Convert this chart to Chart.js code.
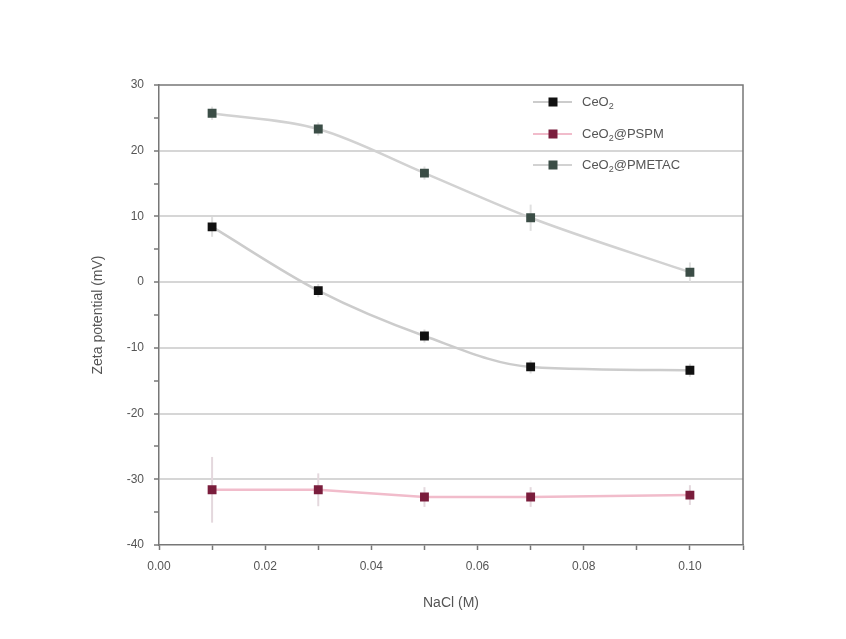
<!DOCTYPE html>
<html>
<head>
<meta charset="utf-8">
<script src="https://cdn.jsdelivr.net/npm/chart.js@4.4.1/dist/chart.umd.min.js"></script>
<style>
  html, body { margin: 0; padding: 0; background: #fff; }
  canvas { display: block; }
</style>
</head>
<body>
<canvas id="zeta" width="846" height="639"></canvas>
<script>
// NaCl concentration (M)
const nacl = [0.01, 0.03, 0.05, 0.07, 0.10];

// zeta potential (mV)
const ceo2 = [8.4, -1.3, -8.2, -12.9, -13.4];
const ceo2Err = [1.5, 1.0, 1.0, 1.0, 1.0];
const pspm = [-31.6, -31.6, -32.7, -32.7, -32.4];
const pspmErr = [5.0, 2.5, 1.5, 1.5, 1.5];
const pmetac = [25.7, 23.3, 16.6, 9.8, 1.5];
const pmetacErr = [1.0, 1.0, 1.0, 2.0, 1.5];

const seriesNames = ['CeO2', 'CeO2@PSPM', 'CeO2@PMETAC'];
const yTicks = [30, 20, 10, 0, -10, -20, -30, -40];

const FONT = 'Liberation Sans, Arial, sans-serif';

function pts(ys) {
    return nacl.map((x, i) => ({ x: x, y: ys[i] }));
}

// error bars, drawn under the markers
const errorBars = {
    id: 'errorBars',
    beforeDatasetsDraw(chart) {
        const ctx = chart.ctx;
        const y = chart.scales.y;
        chart.data.datasets.forEach((ds, i) => {
            const meta = chart.getDatasetMeta(i);
            ctx.save();
            ctx.strokeStyle = ds.errColor;
            ctx.lineWidth = 2;
            meta.data.forEach((p, j) => {
                const v = ds.data[j].y;
                const e = ds.err[j];
                ctx.beginPath();
                ctx.moveTo(p.x, y.getPixelForValue(v + e));
                ctx.lineTo(p.x, y.getPixelForValue(v - e));
                ctx.stroke();
            });
            ctx.restore();
        });
    }
};

// top + right frame, axis titles, legend
const frame = {
    id: 'frame',
    afterDraw(chart) {
        const ctx = chart.ctx;
        const a = chart.chartArea;
        ctx.save();
        ctx.strokeStyle = '#777';
        ctx.lineWidth = 1.5;
        ctx.beginPath();
        ctx.moveTo(a.left, a.top);
        ctx.lineTo(a.right, a.top);
        ctx.lineTo(a.right, a.bottom);
        ctx.stroke();

        ctx.fillStyle = '#555';
        ctx.font = '14px ' + FONT;
        ctx.textAlign = 'center';
        ctx.textBaseline = 'middle';
        ctx.fillText('NaCl (M)', (a.left + a.right) / 2, 603);
        ctx.translate(98, (a.top + a.bottom) / 2);
        ctx.rotate(-Math.PI / 2);
        ctx.fillText('Zeta potential (mV)', 0, 0);
        ctx.restore();

        // legend
        const rows = [102, 134, 165];
        chart.data.datasets.forEach((ds, i) => {
            const yy = rows[i];
            ctx.save();
            ctx.strokeStyle = ds.borderColor;
            ctx.lineWidth = 2;
            ctx.beginPath();
            ctx.moveTo(533, yy);
            ctx.lineTo(572, yy);
            ctx.stroke();
            ctx.fillStyle = ds.pointBackgroundColor;
            ctx.fillRect(553 - 4.5, yy - 4.5, 9, 9);

            ctx.fillStyle = '#555';
            ctx.textBaseline = 'middle';
            ctx.textAlign = 'left';
            ctx.font = '13px ' + FONT;
            const name = seriesNames[i];
            let x = 582;
            ctx.fillText('CeO', x, yy);
            x += ctx.measureText('CeO').width;
            ctx.font = '9px ' + FONT;
            ctx.fillText('2', x, yy + 5);
            x += ctx.measureText('2').width;
            ctx.font = '13px ' + FONT;
            ctx.fillText(name.slice(4), x, yy);
            ctx.restore();
        });
    }
};

const ctx = document.getElementById('zeta').getContext('2d');
new Chart(ctx, {
    type: 'line',
    data: {
        datasets: [{
            label: seriesNames[0],
            data: pts(ceo2),
            err: ceo2Err,
            errColor: '#dedede',
            borderColor: '#cccccc',
            borderWidth: 2.5,
            cubicInterpolationMode: 'monotone',
            pointStyle: 'rect',
            pointRadius: 4.5,
            pointBackgroundColor: '#111',
            pointBorderColor: '#111'
        }, {
            label: seriesNames[1],
            data: pts(pspm),
            err: pspmErr,
            errColor: '#e4d8dd',
            borderColor: '#f1bccb',
            borderWidth: 2.5,
            tension: 0,
            pointStyle: 'rect',
            pointRadius: 4.5,
            pointBackgroundColor: '#7a1d3c',
            pointBorderColor: '#7a1d3c'
        }, {
            label: seriesNames[2],
            data: pts(pmetac),
            err: pmetacErr,
            errColor: '#e0e0e0',
            borderColor: '#d2d2d2',
            borderWidth: 2.5,
            cubicInterpolationMode: 'monotone',
            pointStyle: 'rect',
            pointRadius: 4.5,
            pointBackgroundColor: '#3b4d46',
            pointBorderColor: '#3b4d46'
        }]
    },
    options: {
        responsive: false,
        animation: false,
        layout: { padding: { left: 0, top: 85, right: 103, bottom: 0 } },
        plugins: {
            legend: { display: false },
            tooltip: { enabled: false }
        },
        scales: {
            x: {
                type: 'linear',
                min: 0,
                max: 0.11,
                afterFit: s => { s.height = 94; },
                border: { color: '#777', width: 1.5 },
                grid: {
                    drawOnChartArea: false,
                    tickLength: 5,
                    tickColor: '#777',
                    tickWidth: 1.5
                },
                ticks: {
                    stepSize: 0.01,
                    autoSkip: false,
                    maxRotation: 0,
                    padding: 9,
                    color: '#555',
                    font: { family: FONT, size: 12 },
                    callback: v => Math.round(v * 100) % 2 === 0 ? v.toFixed(2) : ''
                }
            },
            y: {
                min: -40,
                max: 30,
                afterFit: s => { s.width = 159; },
                border: { color: '#777', width: 1.5 },
                grid: {
                    lineWidth: 2,
                    color: c => (c.tick && yTicks.includes(c.tick.value) && c.tick.value > -40 && c.tick.value < 30) ? '#d6d6d6' : 'rgba(0,0,0,0)',
                    tickLength: 5,
                    tickColor: '#777',
                    tickWidth: 1.5
                },
                ticks: {
                    stepSize: 5,
                    autoSkip: false,
                    padding: 10,
                    color: '#555',
                    font: { family: FONT, size: 12 },
                    callback: v => yTicks.includes(v) ? String(v) : ''
                }
            }
        }
    },
    plugins: [errorBars, frame]
});
</script>
</body>
</html>
